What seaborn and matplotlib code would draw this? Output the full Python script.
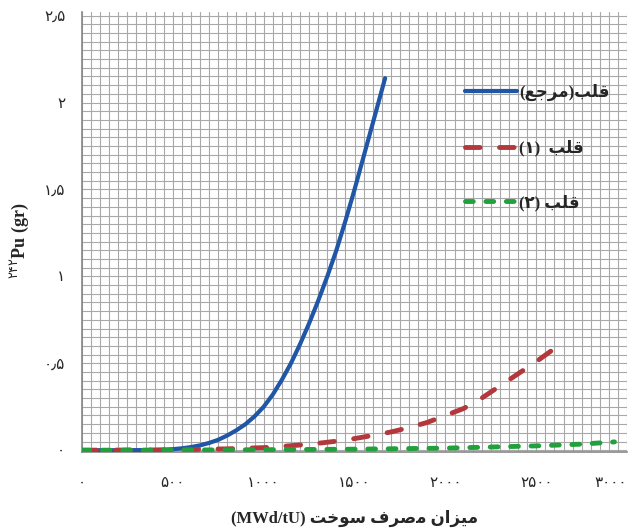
import matplotlib
matplotlib.use("Agg")
import matplotlib.pyplot as plt
import seaborn as sns
import pandas as pd
from matplotlib.ticker import MultipleLocator

# ---- data ----
x_ref = [0, 200, 400, 450, 500, 550, 600, 650, 700, 750, 800, 850, 900, 950, 1000,
         1050, 1100, 1150, 1200, 1250, 1300, 1350, 1400, 1450, 1500, 1550, 1600, 1668]
y_ref = [0, 0.0, 0.001, 0.003, 0.006, 0.011, 0.018, 0.028, 0.042, 0.06, 0.085, 0.115, 0.15, 0.195, 0.25,
         0.32, 0.405, 0.50, 0.61, 0.73, 0.86, 1.0, 1.15, 1.32, 1.50, 1.69, 1.88, 2.14]

x_c1 = [0, 500, 800, 1000, 1100, 1200, 1300, 1400, 1500, 1600, 1700, 1800, 1900, 2000,
        2100, 2200, 2300, 2400, 2500, 2620]
y_c1 = [0, 0.002, 0.008, 0.015, 0.022, 0.03, 0.04, 0.052, 0.067, 0.085, 0.105, 0.13, 0.16, 0.20,
        0.24, 0.30, 0.37, 0.44, 0.51, 0.60]

x_c2 = [0, 500, 1000, 1500, 2000, 2500, 2750, 2930]
y_c2 = [0, 0.001, 0.003, 0.006, 0.012, 0.025, 0.035, 0.048]

# Persian labels written in visual order with presentation forms
QALB = "\uFE90\uFEE0\uFED7"          # قلب
MARJA = "\uFECA\uFE9F\uFEAE\uFEE3"   # مرجع
label_ref = "(" + MARJA + ")" + QALB
label_c1 = "(\u06F1)  " + QALB
label_c2 = "(\u06F2) " + QALB

xlabel_text = ("(MWd/tU) " + "\uFE96\uFEA7\uFEEE\uFEB3" + " " +
               "\uFED1\uFEAE\uFEBB\uFEE3" + " " +
               "\uFEE5\uFE8D\uFEB0\uFEF4\uFEE3")
ylabel_text = "$^{\u06F2\u06F4\u06F2}$Pu (gr)"

xticks = [0, 500, 1000, 1500, 2000, 2500, 3000]
xtick_labels = ["\u06F0", "\u06F5\u06F0\u06F0", "\u06F1\u06F0\u06F0\u06F0", "\u06F1\u06F5\u06F0\u06F0",
                "\u06F2\u06F0\u06F0\u06F0", "\u06F2\u06F5\u06F0\u06F0", "\u06F3\u06F0\u06F0\u06F0"]
yticks = [0, 0.5, 1, 1.5, 2, 2.5]
ytick_labels = ["\u06F0", "\u06F0\u066B\u06F5", "\u06F1", "\u06F1\u066B\u06F5", "\u06F2", "\u06F2\u066B\u06F5"]

sns.set_style("white")
plt.rcParams['font.family'] = ['Liberation Serif', 'DejaVu Sans']
plt.rcParams['mathtext.fontset'] = 'custom'
plt.rcParams['mathtext.rm'] = 'DejaVu Sans'
plt.rcParams['mathtext.bf'] = 'DejaVu Sans:bold'

fig = plt.figure(figsize=(6.4, 5.28), dpi=100)
ax = fig.add_axes([0.128, 0.144, 0.852, 0.833])

df_ref = pd.DataFrame({"x": x_ref, "y": y_ref})
df_c1 = pd.DataFrame({"x": x_c1, "y": y_c1})
df_c2 = pd.DataFrame({"x": x_c2, "y": y_c2})

sns.lineplot(data=df_ref, x="x", y="y", ax=ax, color="#1f56a5", linewidth=3.0,
             label=label_ref, zorder=3, solid_capstyle="round", solid_joinstyle="round")
sns.lineplot(data=df_c1, x="x", y="y", ax=ax, color="#b3383b", linewidth=3.5,
             linestyle=(0, (3.0, 4.0)), dash_capstyle="round", label=label_c1, zorder=4)
sns.lineplot(data=df_c2, x="x", y="y", ax=ax, color="#22a03c", linewidth=3.5,
             linestyle=(0, (1.6, 2.6)), dash_capstyle="round", label=label_c2, zorder=5)

ax.set_xlim(0, 3000)
ax.set_ylim(-0.01, 2.52)

ax.xaxis.set_minor_locator(MultipleLocator(50))
ax.yaxis.set_minor_locator(MultipleLocator(0.05))
ax.grid(which="major", color="#a8a8a8", linewidth=0.8, zorder=0)
ax.grid(which="minor", color="#a8a8a8", linewidth=0.8, zorder=0)
ax.set_axisbelow(True)

ax.set_xticks(xticks)
ax.set_xticklabels(xtick_labels, fontsize=11)
ax.set_yticks(yticks)
ax.set_yticklabels(ytick_labels, fontsize=11)
ax.get_xticklabels()[-1].set_horizontalalignment("right")
ax.tick_params(axis="x", which="major", length=4, color="#888888", pad=14, direction="out")
ax.tick_params(axis="y", which="major", length=4, color="#888888", pad=8, direction="out")
ax.tick_params(which="minor", length=0)

for side in ["top", "right"]:
    ax.spines[side].set_visible(False)
for side in ["left", "bottom"]:
    ax.spines[side].set_color("#888888")
    ax.spines[side].set_linewidth(1.2)

ax.set_xlabel(xlabel_text, fontsize=12, fontweight="bold", labelpad=14)
ax.set_ylabel(ylabel_text, fontsize=13, fontweight="bold", labelpad=6)
ax.yaxis.set_label_coords(-0.094, 0.48)

leg = ax.legend(loc="upper left", bbox_to_anchor=(0.675, 0.87), frameon=False,
                handlelength=3.1, handletextpad=0.15, labelspacing=2.3,
                prop={"size": 12, "weight": "bold"})

fig.savefig("out.png", dpi=100)
